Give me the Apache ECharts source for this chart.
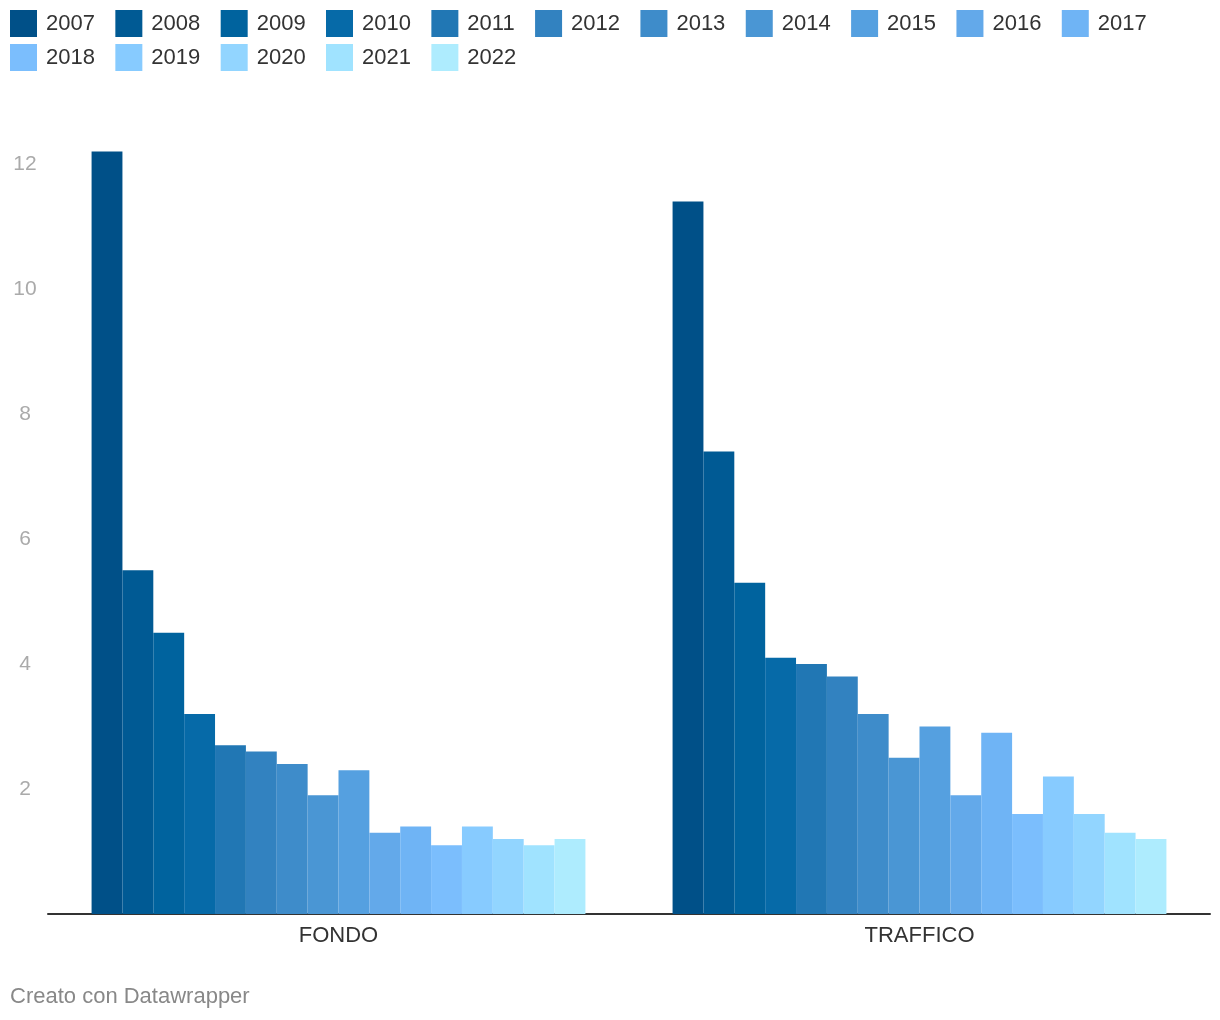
<!DOCTYPE html>
<html>
<head>
<meta charset="utf-8">
<script src="https://cdn.jsdelivr.net/npm/echarts@6/dist/echarts.min.js"></script>
<style>
  html, body { margin: 0; padding: 0; background: #fff; }
  #chart { width: 1220px; height: 1020px; }
</style>
</head>
<body>
<div id="chart"></div>
<script>
const categories = ["FONDO", "TRAFFICO"];
const years = ["2007", "2008", "2009", "2010", "2011", "2012", "2013", "2014",
  "2015", "2016", "2017", "2018", "2019", "2020", "2021", "2022"];
// one value per year, [FONDO, TRAFFICO]
const fondo    = [12.2, 5.5, 4.5, 3.2, 2.7, 2.6, 2.4, 1.9, 2.3, 1.3, 1.4, 1.1, 1.4, 1.2, 1.1, 1.2];
const traffico = [11.4, 7.4, 5.3, 4.1, 4.0, 3.8, 3.2, 2.5, 3.0, 1.9, 2.9, 1.6, 2.2, 1.6, 1.3, 1.2];
const colors = ["#005088", "#005a94", "#00639e", "#066aa8", "#2177b4", "#3282c0",
  "#3e8cca", "#4a96d4", "#55a0e0", "#63a9ea", "#6fb4f5", "#7bbefd",
  "#87cbff", "#92d5ff", "#a0e3ff", "#aeecfe"];

const FONT = "Liberation Sans, Arial, Helvetica, sans-serif";

const chart = echarts.init(document.getElementById("chart"));

const legendBase = {
  left: 10,
  padding: 0,
  orient: "horizontal",
  icon: "rect",
  itemWidth: 27,
  itemHeight: 27,
  itemGap: 20.4,
  textStyle: { fontFamily: FONT, fontSize: 22, color: "#333", padding: [0, 0, 0, 4] }
};

const option = {
  animation: false,
  color: colors,
  legend: [
    Object.assign({}, legendBase, { top: 10, data: years.slice(0, 11) }),
    Object.assign({}, legendBase, { top: 44, data: years.slice(11) })
  ],
  grid: { left: 48, right: 10, top: 151.5, bottom: 106, containLabel: false },
  xAxis: {
    type: "category",
    data: categories,
    axisLine: { show: true, lineStyle: { color: "#333", width: 2 } },
    axisTick: { show: false },
    axisLabel: { fontFamily: FONT, fontSize: 22, color: "#333", margin: 11 }
  },
  yAxis: {
    type: "value",
    min: 0,
    max: 12.2,
    interval: 2,
    splitLine: { show: false },
    axisLine: { show: false },
    axisTick: { show: false },
    axisLabel: {
      fontFamily: FONT, fontSize: 21, color: "#aaa", align: "center", margin: 23,
      formatter: v => (v === 0 || v % 2 !== 0) ? "" : String(v)
    }
  },
  graphic: [{
    type: "text",
    left: 10,
    top: 986,
    style: { text: "Creato con Datawrapper", fontFamily: FONT, fontSize: 22, fill: "#888" }
  }],
  series: years.map((y, i) => ({
    name: y,
    type: "bar",
    data: [fondo[i], traffico[i]],
    barGap: "0%",
    barCategoryGap: "15%",
    itemStyle: { color: colors[i] }
  }))
};

chart.setOption(option);
</script>
</body>
</html>
